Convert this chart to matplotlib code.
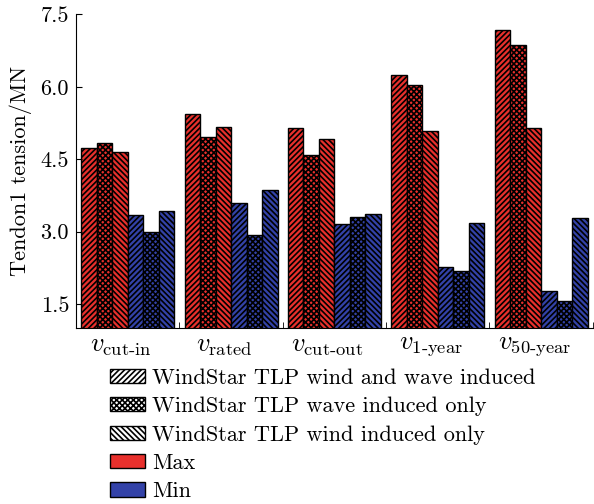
import matplotlib as mpl
mpl.use('Agg')
import matplotlib.pyplot as plt
import matplotlib.transforms as mtrans
from matplotlib.patches import Patch
import numpy as np

plt.rcParams['font.family'] = 'cmr10'
plt.rcParams['mathtext.fontset'] = 'cm'
plt.rcParams['axes.formatter.use_mathtext'] = True
plt.rcParams['hatch.linewidth'] = 1.2

cases = [r'$v_{\text{cut-in}}$', r'$v_{\text{rated}}$', r'$v_{\text{cut-out}}$',
         r'$v_{\text{1-year}}$', r'$v_{\text{50-year}}$']

# tendon 1 tension (MN), max and min for each load case
max_wind_wave = [4.74, 5.44, 5.15, 6.24, 7.17]
max_wave = [4.83, 4.97, 4.59, 6.03, 6.86]
max_wind = [4.65, 5.16, 4.92, 5.08, 5.15]
min_wind_wave = [3.34, 3.59, 3.16, 2.27, 1.77]
min_wave = [3.00, 2.93, 3.30, 2.18, 1.56]
min_wind = [3.42, 3.86, 3.36, 3.19, 3.29]

red = '#e8302c'
blue = '#3342a8'
hatches = ['/' * 6, 'x' * 6, '\\' * 6]

fig = plt.figure(figsize=(5.94, 5.04), dpi=100)
ax = fig.add_axes([0.128, 0.3486, 0.87, 0.623])

x = np.arange(len(cases))
w = 0.15
series = [(max_wind_wave, red, hatches[0]), (max_wave, red, hatches[1]),
          (max_wind, red, hatches[2]), (min_wind_wave, blue, hatches[0]),
          (min_wave, blue, hatches[1]), (min_wind, blue, hatches[2])]
for i, (vals, col, h) in enumerate(series):
    ax.bar(x + (i - 2.5) * w, vals, width=w, color=col, hatch=h,
           edgecolor='black', linewidth=1.0)

ax.set_ylim(1.0, 7.5)
ax.set_xlim(-0.5, 4.5)
ax.set_yticks([1.5, 3.0, 4.5, 6.0, 7.5])
ax.set_yticklabels(['1.5', '3.0', '4.5', '6.0', '7.5'])
ax.set_xticks(x)
ax.set_xticklabels(cases, fontsize=19)
ax.tick_params(axis='x', length=0, pad=4)
shift = mtrans.ScaledTranslation(-7 / 100, 0, fig.dpi_scale_trans)
for lbl in ax.get_xticklabels():
    lbl.set_transform(lbl.get_transform() + shift)
ax.set_xticks(np.arange(5) + 0.5, minor=True)
ax.tick_params(axis='x', which='minor', direction='in', length=4)
ax.tick_params(axis='y', direction='in', length=4, labelsize=16, pad=5)
ax.spines['top'].set_visible(False)
ax.spines['right'].set_visible(False)
ax.set_ylabel('Tendon1 tension/MN', fontsize=16, labelpad=6)

handles = [Patch(facecolor='white', edgecolor='black', hatch=hatches[0]),
           Patch(facecolor='white', edgecolor='black', hatch=hatches[1]),
           Patch(facecolor='white', edgecolor='black', hatch=hatches[2]),
           Patch(facecolor=red, edgecolor='black'),
           Patch(facecolor=blue, edgecolor='black')]
labels = ['WindStar TLP wind and wave induced', 'WindStar TLP wave induced only',
          'WindStar TLP wind induced only', 'Max', 'Min']
fig.legend(handles, labels, loc='upper left', bbox_to_anchor=(0.170, 0.287),
           frameon=False, fontsize=16, handlelength=1.6, handleheight=0.6,
           handletextpad=0.3, labelspacing=0.4, borderaxespad=0)

fig.savefig('out.png', dpi=100)
